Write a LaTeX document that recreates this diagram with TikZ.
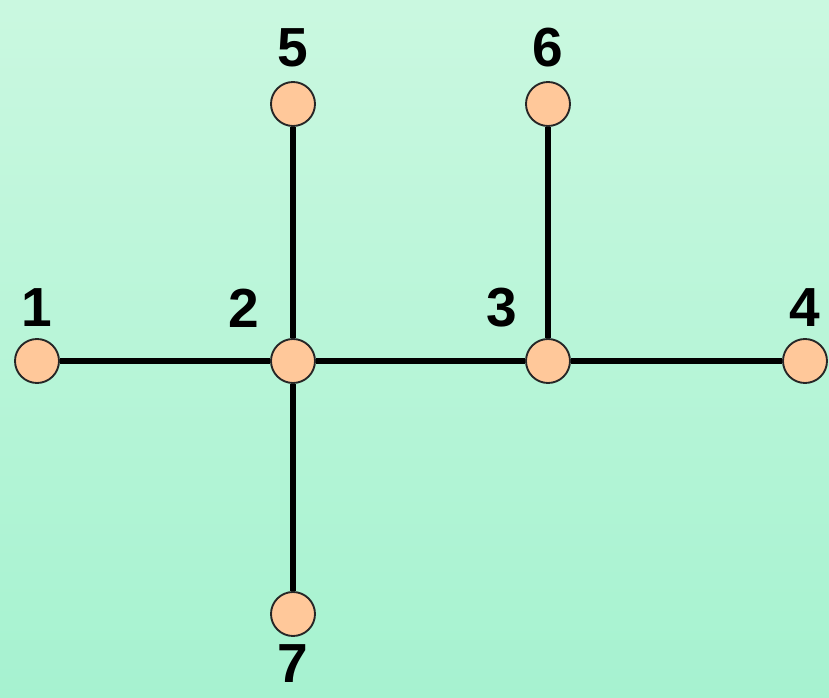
\documentclass[tikz,border=0pt]{standalone}
\usepackage{fontspec}
\setmainfont{Liberation Sans}
\definecolor{bgtop}{RGB}{202,248,224}
\definecolor{bgbot}{RGB}{166,242,208}
\definecolor{peach}{RGB}{255,200,154}
\begin{document}
\begin{tikzpicture}[x=0.03cm, y=-0.03cm,
    vertex/.style={circle, draw=black!85, line width=1.6pt, fill=peach, minimum size=1.32cm, inner sep=0pt},
    lbl/.style={font=\fontsize{47}{47}\selectfont\bfseries, inner sep=0pt},
    edge/.style={line width=5.5pt}]
				% 1. 背景
				\shade[top color=bgtop, bottom color=bgbot] (0,0) rectangle (829,698);
				\useasboundingbox (0,0) rectangle (829,698);
				
				% 2. 顶点
				\node[vertex] (v1) at (37,361) {};
				\node[vertex] (v2) at (293,361) {};
				\node[vertex] (v3) at (548,361) {};
				\node[vertex] (v4) at (805,361) {};
				\node[vertex] (v5) at (293,104) {};
				\node[vertex] (v6) at (548,104) {};
				\node[vertex] (v7) at (293,614) {};
				
				% 3. 边
				\draw[edge] (v1) -- (v2);
				\draw[edge] (v2) -- (v3);
				\draw[edge] (v3) -- (v4);
				\draw[edge] (v2) -- (v5);
				\draw[edge] (v3) -- (v6);
				\draw[edge] (v2) -- (v7);
				
				% 4. 标号
				\node[lbl] (l1) at (37,308) {1};
				\node[lbl] (l2) at (244,308) {2};
				\node[lbl] (l3) at (502,308) {3};
				\node[lbl] (l4) at (805,308) {4};
				\node[lbl] (l5) at (293,48) {5};
				\node[lbl] (l6) at (548,48) {6};
				\node[lbl] (l7) at (293,664) {7};
			\end{tikzpicture}
\end{document}
